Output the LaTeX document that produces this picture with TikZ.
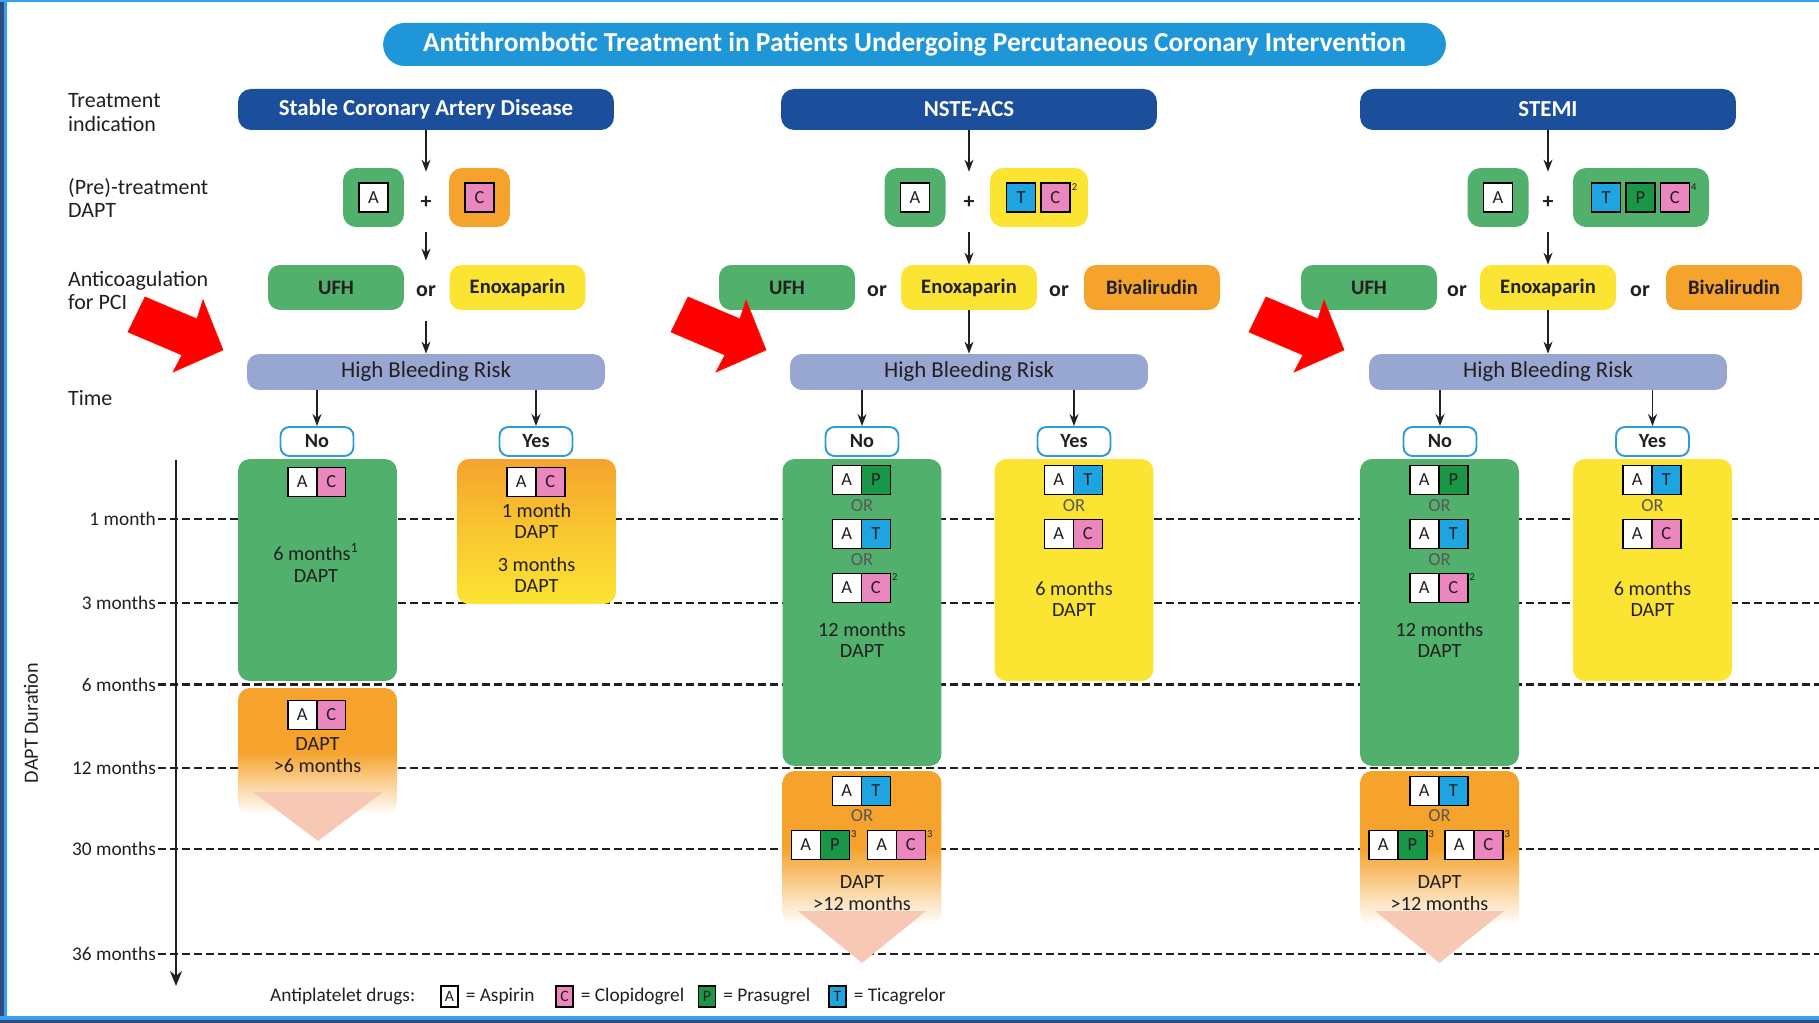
\documentclass[tikz,border=0pt]{standalone}
\usepackage{fontspec}
\setmainfont{Carlito}
\usetikzlibrary{positioning,arrows.meta,shapes}

\definecolor{ttlblue}{RGB}{30,150,215}
\definecolor{hdrblue}{RGB}{27,78,155}
\definecolor{cgreen}{RGB}{80,176,108}
\definecolor{corange}{RGB}{245,163,45}
\definecolor{cyellow}{RGB}{252,228,50}
\definecolor{clav}{RGB}{152,167,210}
\definecolor{cpink}{RGB}{235,135,190}
\definecolor{cticag}{RGB}{30,165,225}
\definecolor{cprasu}{RGB}{25,150,70}
\definecolor{csalmon}{RGB}{247,200,180}
\definecolor{frameblue}{RGB}{55,160,240}
\definecolor{framedark}{RGB}{45,75,125}
\definecolor{txt}{RGB}{35,31,32}
\definecolor{ynblue}{RGB}{45,155,215}

\begin{document}
\begin{tikzpicture}[x=0.02cm,y=-0.02cm,font=\fontsize{11}{13}\selectfont,
  every node/.style={text=txt,inner sep=1pt},
  ttl/.style={fill=ttlblue,text=white,rounded corners=4.3mm,minimum width=212.6mm,minimum height=8.6mm,font=\bfseries\fontsize{15.6}{17}\selectfont},
  hdr/.style={fill=hdrblue,text=white,rounded corners=2.6mm,minimum width=75.2mm,minimum height=8.2mm,font=\bfseries\fontsize{13}{15}\selectfont},
  lbl/.style={anchor=west,align=left,font=\fontsize{12.5}{13.5}\selectfont},
  prebox/.style={rounded corners=2.6mm,minimum height=11.8mm,minimum width=12.2mm},
  ac/.style={rounded corners=2.4mm,minimum width=27.2mm,minimum height=9mm,font=\bfseries\fontsize{11.7}{13}\selectfont},
  joiner/.style={minimum height=12mm,font=\bfseries\fontsize{12.5}{13}\selectfont},
  hbr/.style={fill=clav,rounded corners=2.4mm,minimum width=71.6mm,minimum height=7.2mm,font=\fontsize{13}{15}\selectfont},
  yn/.style={draw=ynblue,line width=1.1pt,fill=white,rounded corners=1.8mm,minimum width=14.6mm,minimum height=5.8mm,font=\bfseries\fontsize{11.5}{13}\selectfont},
  period/.style={rounded corners=2.4mm,minimum width=31.8mm},
  cell/.style={draw=black,line width=0.8pt,fill=white,minimum width=5.8mm,minimum height=5.8mm,inner sep=0pt,font=\fontsize{10.5}{10.5}\selectfont},
  sup/.style={anchor=north west,inner sep=0.5pt,font=\fontsize{6}{6}\selectfont},
  txtbox/.style={align=center,font=\fontsize{11.5}{12.5}\selectfont},
  orl/.style={font=\fontsize{10.5}{10.5}\selectfont,text=txt!75},
  arr/.style={draw=txt,line width=0.9pt,-{Stealth[length=2.4mm,width=1.8mm]}},
  monthline/.style={draw=txt,line width=1.2pt,dash pattern=on 1.6mm off 0.8mm},
  mlabel/.style={anchor=east,font=\fontsize{11}{13}\selectfont},
  legc/.style={cell,minimum width=3.4mm,minimum height=4.2mm,font=\fontsize{9}{9}\selectfont},
  leg/.style={anchor=west,font=\fontsize{11}{12}\selectfont},
  redarr/.style={fill=red,draw=red!85!orange,line width=0.4pt}
]
\useasboundingbox (0,0) rectangle (1819,1023);
\fill[framedark] (0,0) rectangle (4,1023);
\fill[frameblue] (4,0) rectangle (7,1023);
\fill[frameblue] (0,0) rectangle (1819,2.5);
\fill[frameblue] (0,1015.5) rectangle (1819,1019.5);
\fill[framedark] (0,1019.5) rectangle (1819,1023);

\foreach \y/\t [count=\i] in {518.6/1 month,603/3 months,684.5/6 months,768/12 months,849/30 months,953.6/36 months}{
\node[mlabel] (t\i) at (158,\y) {\t};
\draw[monthline] (t\i.east) -- (1819,\y);};
\coordinate (ax0) at (176,460);
\coordinate (ax1) at (176,986);
\draw[draw=txt,line width=1.1pt,-{Stealth[length=3mm,width=2.4mm]}] (ax0) -- (ax1);
\node[rotate=90,font=\fontsize{11.5}{13}\selectfont] (dur) at (31,723) {DAPT Duration};

\node[ttl] (title) at (914.5,44.5) {Antithrombotic Treatment in Patients Undergoing Percutaneous Coronary Intervention};
\node[lbl] (ind) at (66,112.5) {Treatment\\indication};
\node[lbl] (pre) at (66,198) {(Pre)-treatment\\DAPT};
\node[lbl] (anti) at (66,290.5) {Anticoagulation\\for PCI};
\node[lbl] (time) at (66,398) {Time};

\node[hdr] (hdr1) at (426,109.5) {Stable Coronary Artery Disease};
\node[prebox,fill=cgreen] (pa1) at (373.5,197.5) {};
\node[cell] (pa1c) at (pa1) {A};
\node[joiner] (plus1) at (426,202) {+};
\node[prebox,fill=corange] (pc1) at (479.5,197.5) {};
\node[cell,fill=cpink] (pc1c) at (pc1) {C};
\node[ac,fill=cgreen] (ufh1) at (336,287.5) {UFH};
\node[joiner] (or1) at (426,291) {or};
\node[ac,fill=cyellow] (enox1) at (517.5,287.5) {Enoxaparin};
\node[hbr] (hbr1) at (426,372) {High Bleeding Risk};
\node[yn] (no1) at (317,441.5) {No};
\node[yn] (yes1) at (536,441.5) {Yes};
\draw[arr] (hdr1) -- (plus1);
\draw[arr] (plus1) -- (or1);
\draw[arr] (or1) -- (hbr1);
\draw[arr] (hbr1.south -| no1) -- (no1);
\draw[arr] (hbr1.south -| yes1) -- (yes1);
\node[period,fill=cgreen,minimum height=44.4mm] (long1) at (317.5,570) {};
\node[period,top color=corange,bottom color=cyellow,middle color=corange!45!cyellow,minimum height=29mm] (short1) at (536.5,531.5) {};
\node[period,top color=corange,bottom color=white,middle color=corange,minimum height=25.4mm] (ext1) at (317.5,751.5) {};
\fill[csalmon] (253,792) -- (383,792) -- (318,841) -- cycle;
\node[txtbox] (d1) at (316,563) {6 months\textsuperscript{1}\\DAPT};
\node[txtbox] (d2) at (536.5,521) {1 month\\DAPT};
\node[txtbox] (d3) at (536.5,575) {3 months\\DAPT};
\node[txtbox] (d4) at (317.5,755) {DAPT\\>6 months};

\node[hdr] (hdr2) at (969,109.5) {NSTE-ACS};
\node[prebox,fill=cgreen] (pa2) at (915,197.5) {};
\node[cell] (pa2c) at (pa2) {A};
\node[joiner] (plus2) at (969,202) {+};
\node[prebox,fill=cyellow,minimum width=19.6mm] (ptc2) at (1039,197.5) {};
\node[cell,fill=cticag] (pt2) at (1021,197.5) {T};
\node[cell,fill=cpink,right=0.8mm of pt2] (pc2) {C};
\node[sup] (s2) at (pc2.north east) {2};
\node[ac,fill=cgreen] (ufh2) at (787,287.5) {UFH};
\node[joiner] (or2a) at (877,291) {or};
\node[ac,fill=cyellow] (enox2) at (969,287.5) {Enoxaparin};
\node[joiner] (or2b) at (1059,291) {or};
\node[ac,fill=corange] (biv2) at (1152,287.5) {Bivalirudin};
\node[hbr] (hbr2) at (969,372) {High Bleeding Risk};
\node[yn] (no2) at (862,441.5) {No};
\node[yn] (yes2) at (1074,441.5) {Yes};
\draw[arr] (hdr2) -- (plus2);
\draw[arr] (plus2) -- (enox2);
\draw[arr] (enox2) -- (hbr2);
\draw[arr] (hbr2.south -| no2) -- (no2);
\draw[arr] (hbr2.south -| yes2) -- (yes2);
\node[period,fill=cgreen,minimum height=61.4mm] (long2) at (862,612.5) {};
\node[period,fill=cyellow,minimum height=44.4mm] (short2) at (1074,570) {};
\node[period,top color=corange,bottom color=white,middle color=corange,minimum height=30.8mm] (ext2) at (862,848) {};
\fill[csalmon] (798,911) -- (926,911) -- (862,963) -- cycle;
\node[txtbox] (d5) at (862,640) {12 months\\DAPT};
\node[txtbox] (d6) at (1074,599) {6 months\\DAPT};
\node[txtbox] (d7) at (862,893) {DAPT\\>12 months};

\node[hdr] (hdr3) at (1548,109.5) {STEMI};
\node[prebox,fill=cgreen] (pa3) at (1498,197.5) {};
\node[cell] (pa3c) at (pa3) {A};
\node[joiner] (plus3) at (1548,202) {+};
\node[prebox,fill=cgreen,minimum width=27.2mm] (ptpc3) at (1641,197.5) {};
\node[cell,fill=cticag] (pt3) at (1606,197.5) {T};
\node[cell,fill=cprasu,right=0.8mm of pt3] (pp3) {P};
\node[cell,fill=cpink,right=0.8mm of pp3] (pc3) {C};
\node[sup] (s4) at (pc3.north east) {4};
\node[ac,fill=cgreen] (ufh3) at (1369,287.5) {UFH};
\node[joiner] (or3a) at (1457,291) {or};
\node[ac,fill=cyellow] (enox3) at (1548,287.5) {Enoxaparin};
\node[joiner] (or3b) at (1640,291) {or};
\node[ac,fill=corange] (biv3) at (1734,287.5) {Bivalirudin};
\node[hbr] (hbr3) at (1548,372) {High Bleeding Risk};
\node[yn] (no3) at (1440,441.5) {No};
\node[yn] (yes3) at (1652.5,441.5) {Yes};
\draw[arr] (hdr3) -- (plus3);
\draw[arr] (plus3) -- (enox3);
\draw[arr] (enox3) -- (hbr3);
\draw[arr] (hbr3.south -| no3) -- (no3);
\draw[arr] (hbr3.south -| yes3) -- (yes3);
\node[period,fill=cgreen,minimum height=61.4mm] (long3) at (1439.5,612.5) {};
\node[period,fill=cyellow,minimum height=44.4mm] (short3) at (1652.5,570) {};
\node[period,top color=corange,bottom color=white,middle color=corange,minimum height=30.8mm] (ext3) at (1439.5,848) {};
\fill[csalmon] (1375,911) -- (1504,911) -- (1439.5,963) -- cycle;
\node[txtbox] (d8) at (1439.5,640) {12 months\\DAPT};
\node[txtbox] (d9) at (1652.5,599) {6 months\\DAPT};
\node[txtbox] (d10) at (1439.5,893) {DAPT\\>12 months};

\foreach \n/\x/\y/\c/\l in {k1/317.5/482/cpink/C,k2/536.5/482/cpink/C,k3/317.5/715/cpink/C,
  k4/862/480/cprasu/P,k5/862/534/cticag/T,k6/862/588/cpink/C,k7/1074/480/cticag/T,k8/1074/534/cpink/C,
  k9/862/791/cticag/T,k10/821/845/cprasu/P,k11/897/845/cpink/C,
  k12/1439.5/480/cprasu/P,k13/1439.5/534/cticag/T,k14/1439.5/588/cpink/C,k15/1652.5/480/cticag/T,k16/1652.5/534/cpink/C,
  k17/1439.5/791/cticag/T,k18/1398.5/845/cprasu/P,k19/1474.5/845/cpink/C}{
\node[cell,anchor=east] (\n-a) at (\x,\y) {A};
\node[cell,fill=\c,right=-0.8pt of \n-a] (\n-b) {\l};};
\foreach \n/\s in {k6/2,k10/3,k11/3,k14/2,k18/3,k19/3}{
\node[sup] (s\n) at (\n-b.north east) {\s};};
\foreach \x/\y [count=\i] in {862/506,862/560,1074/506,862/816,1439.5/506,1439.5/560,1652.5/506,1439.5/816}{
\node[orl] (or-\i) at (\x,\y) {OR};};

\node[leg] (legt) at (268,996.5) {Antiplatelet drugs:};
\node[legc] (lA) at (449.5,996.5) {A};
\node[leg,right=1mm of lA] (lAt) {= Aspirin};
\node[legc,fill=cpink] (lC) at (564.5,996.5) {C};
\node[leg,right=1mm of lC] (lCt) {= Clopidogrel};
\node[legc,fill=cprasu] (lP) at (707,996.5) {P};
\node[leg,right=1mm of lP] (lPt) {= Prasugrel};
\node[legc,fill=cticag] (lT) at (837.5,996.5) {T};
\node[leg,right=1mm of lT] (lTt) {= Ticagrelor};

\foreach \dx in {0,543,1121}{
\filldraw[redarr,shift={(\dx,0)}] (145,297) -- (197,319) -- (203,300) -- (223,350) -- (173,372) -- (182,355) -- (128,332) -- cycle;};
\end{tikzpicture}
\end{document}
